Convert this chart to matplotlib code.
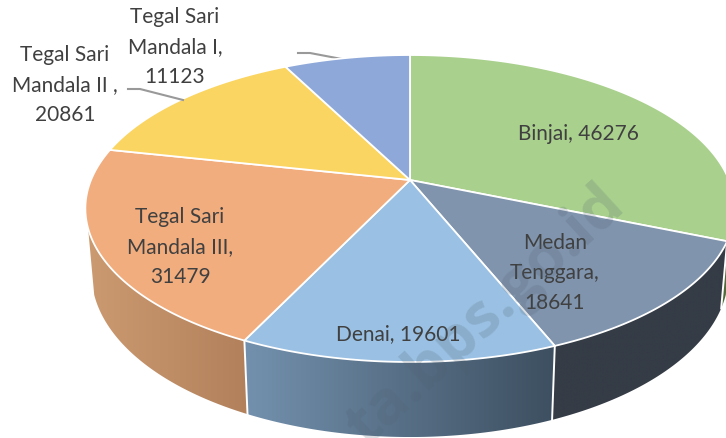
import numpy as np
import matplotlib
matplotlib.use("Agg")
import matplotlib.pyplot as plt
from matplotlib.colors import LinearSegmentedColormap
from matplotlib.patches import Polygon

# data
values = [46276, 18641, 19601, 31479, 20861, 11123]
top_colors = ["#a9d08d", "#8094ad", "#9ac1e3", "#f1ad7e", "#fbd561", "#8ea8d9"]
wall_left = ["#4f6b3a", "#353c46", "#7391ae", "#cc9a70", "#c9a84a", "#7088b0"]
wall_right = ["#4f6b3a", "#353c46", "#3d4f60", "#b2815c", "#c9a84a", "#7088b0"]
label_text = [
    "Binjai, 46276",
    "Medan\nTenggara,\n18641",
    "Denai, 19601",
    "Tegal Sari\nMandala III,\n31479",
    "Tegal Sari\nMandala II ,\n20861",
    "Tegal Sari\nMandala I,\n11123",
]
label_pos = [(578, 134), (555, 273), (398, 334), (180, 247), (65, 85), (175, 47)]

# perspective of the tilted disc, fitted on the picture
CX, CY, K = 410, 180, 0.1857
TOP_A, TOP_B = 319, 148.2
BOT_A, BOT_B, BOT_CY = 313, 158, 243


def top_xy(theta):
    u, v = np.sin(theta), np.cos(theta)
    w = 1 + K * v
    return CX + TOP_A * u / w, CY - TOP_B * v / w


def bot_xy(theta):
    u, v = np.sin(theta), np.cos(theta)
    w = 1 + K * v
    return CX + BOT_A * u / w, BOT_CY - BOT_B * v / w


fig = plt.figure(figsize=(7.26, 4.38), dpi=100)
ax = fig.add_axes([0, 0, 1, 1])

edges = np.radians(np.concatenate([[0], np.cumsum(values)]) / np.sum(values) * 360)
wall_from, wall_to = np.radians(108), np.radians(252)

# side wall: a left to right gradient clipped to each slice
for i in range(len(values)):
    a, b = max(edges[i], wall_from), min(edges[i + 1], wall_to)
    if a >= b:
        continue
    ts = np.linspace(a, b, 120)
    xt, yt = top_xy(ts)
    xb, yb = bot_xy(ts[::-1])
    xs, ys = np.r_[xt, xb], np.r_[yt, yb]
    cmap = LinearSegmentedColormap.from_list("wall", [wall_left[i], wall_right[i]])
    im = ax.imshow(np.linspace(0, 1, 256)[None, :], cmap=cmap, aspect="auto", zorder=2,
                   extent=[xs.min(), xs.max(), ys.max(), ys.min()], interpolation="bilinear")
    im.set_clip_path(Polygon(np.c_[xs, ys], closed=True, transform=ax.transData))

ax.set_xlim(0, 726)
ax.set_ylim(438, 0)
ax.axis("off")

# white seams on the wall
for e in edges:
    if wall_from < e < wall_to:
        xt, yt = top_xy(e)
        xb, yb = bot_xy(e)
        ax.plot([xt, xb], [yt, yb], color="white", lw=1.4, zorder=3)

# top faces
for i in range(len(values)):
    ts = np.linspace(edges[i], edges[i + 1], 120)
    x, y = top_xy(ts)
    ax.fill(np.r_[CX, x], np.r_[CY, y], facecolor=top_colors[i], edgecolor="white", lw=1.3, zorder=4, joinstyle="round")

# leader lines
ax.plot([128, 140, 183], [89, 89, 100], color="#999999", lw=1.5, zorder=5)
ax.plot([298, 310, 347], [53, 53, 60], color="#999999", lw=1.5, zorder=3)

for txt, (lx, ly) in zip(label_text, label_pos):
    ax.text(lx, ly, txt, ha="center", va="center", family="Lato", fontsize=15, color="#404040",
            linespacing=1.6, zorder=6)

# site watermark
ax.text(486, 316, "ta.bps.go.id", rotation=42.5, rotation_mode="anchor", ha="center", va="center",
        family="Open Sans", fontweight="bold", fontsize=44, color="#506070", alpha=0.2, zorder=7)

fig.savefig("out.png", dpi=100)
